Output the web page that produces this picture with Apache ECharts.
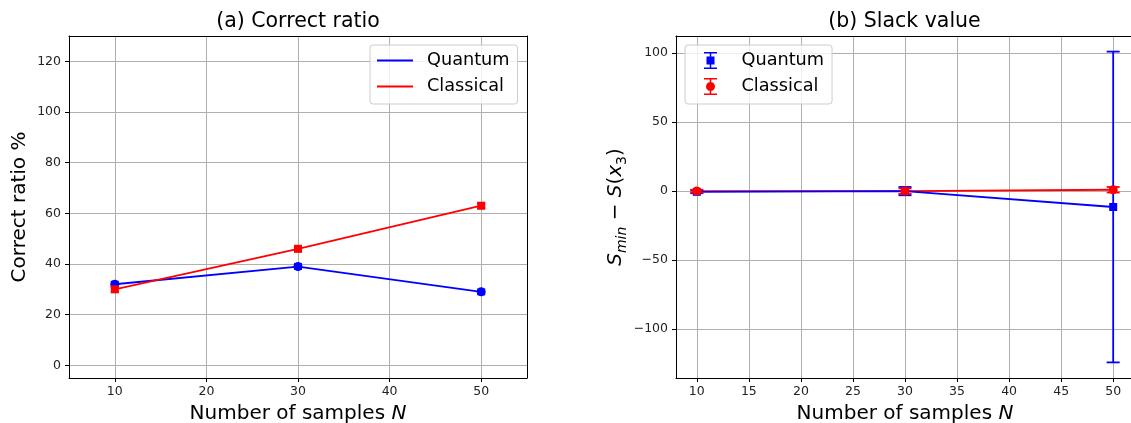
<!DOCTYPE html>
<html><head><meta charset="utf-8">
<script src="https://cdn.jsdelivr.net/npm/echarts@6/dist/echarts.min.js"></script>
<style>html,body{margin:0;padding:0;background:#fff}#c{width:1131px;height:423px}</style>
</head><body><div id="c"></div>
<script>
// ---- data ----
const sampleSizes = [10, 30, 50];
const quantumRatio = [32, 39, 29];
const classicalRatio = [30, 46, 63];
const quantumRatioErr = [1, 1, 1];
const classicalRatioErr = [1, 1, 1];
const quantumSlack = [-0.5, 0, -11.5];
const quantumSlackErr = [1, 3, 112.5];
const classicalSlack = [0, 0, 1];
const classicalSlackErr = [1, 2, 2];
const ratioXTicks = [10, 20, 30, 40, 50];
const ratioYTicks = [0, 20, 40, 60, 80, 100, 120];
const slackXTicks = [10, 15, 20, 25, 30, 35, 40, 45, 50];
const slackYTicks = [-100, -50, 0, 50, 100];

const FONT = 'DejaVu Sans';
const BLUE = '#0000ff', RED = '#ff0000';
const LW = 1.8;

function pairs(xs, ys) { return xs.map((x, i) => [x, ys[i]]); }

function errSeries(id, xs, ys, es, color, axis, cap, z) {
  return {
    type: 'custom', name: id, xAxisIndex: axis, yAxisIndex: axis, silent: true, z: z,
    data: xs.map((x, i) => [x, ys[i] - es[i], ys[i] + es[i]]),
    encode: { x: 0, y: [1, 2] },
    renderItem: function (params, api) {
      const x = api.value(0);
      const lo = api.coord([x, api.value(1)]);
      const hi = api.coord([x, api.value(2)]);
      const st = { stroke: color, lineWidth: LW };
      return { type: 'group', children: [
        { type: 'line', shape: { x1: lo[0], y1: lo[1], x2: hi[0], y2: hi[1] }, style: st },
        { type: 'line', shape: { x1: lo[0] - cap, y1: lo[1], x2: lo[0] + cap, y2: lo[1] }, style: st },
        { type: 'line', shape: { x1: hi[0] - cap, y1: hi[1], x2: hi[0] + cap, y2: hi[1] }, style: st }
      ] };
    }
  };
}
function lineSeries(name, xs, ys, color, axis, z) {
  return { type: 'line', name: name, xAxisIndex: axis, yAxisIndex: axis, data: pairs(xs, ys),
    showSymbol: false, symbol: 'none', z: z, silent: true,
    itemStyle: { color: color }, lineStyle: { color: color, width: LW } };
}
function markerSeries(id, xs, ys, color, axis, symbol, size, z) {
  return { type: 'scatter', name: id, xAxisIndex: axis, yAxisIndex: axis, data: pairs(xs, ys),
    symbol: symbol, symbolSize: size, z: z, silent: true, itemStyle: { color: color, opacity: 1 } };
}

function xAxisOf(idx, min, max, ticks) {
  return {
    type: 'value', gridIndex: idx, min: min, max: max, position: 'bottom',
    name: 'Number of samples {i|N}', nameLocation: 'middle', nameGap: 26,
    nameTextStyle: { fontSize: 20, color: '#000', fontFamily: FONT,
      rich: { i: { fontSize: 20, fontStyle: 'italic', fontFamily: FONT, color: '#000' } } },
    axisLine: { show: true, onZero: false, lineStyle: { color: '#000', width: 1 } },
    axisTick: { show: true, length: 4, lineStyle: { color: '#000' }, customValues: ticks },
    axisLabel: { fontSize: 12.5, color: '#222', fontFamily: FONT, margin: 7, customValues: ticks,
      formatter: v => String(v) },
    splitLine: { show: true, lineStyle: { color: '#b0b0b0', width: 1 } }
  };
}
function yAxisOf(idx, min, max, ticks, name, gap, rich) {
  return {
    type: 'value', gridIndex: idx, min: min, max: max, position: 'left',
    name: name, nameLocation: 'middle', nameGap: gap,
    nameTextStyle: { fontSize: 20, color: '#000', fontFamily: FONT, rich: rich },
    axisLine: { show: true, onZero: false, lineStyle: { color: '#000', width: 1 } },
    axisTick: { show: true, length: 4, lineStyle: { color: '#000' }, customValues: ticks },
    axisLabel: { fontSize: 12.5, color: '#222', fontFamily: FONT, margin: 8, customValues: ticks,
      formatter: v => (v < 0 ? '\u2212' + Math.abs(v) : String(v)) },
    splitLine: { show: true, lineStyle: { color: '#b0b0b0', width: 1 } }
  };
}
// plain spine-only axes (top / right frame lines)
function spineAxis(idx, min, max, position) {
  return {
    type: 'value', gridIndex: idx, min: min, max: max, position: position,
    axisLine: { show: true, onZero: false, lineStyle: { color: '#000', width: 1 } },
    axisTick: { show: false }, axisLabel: { show: false }, splitLine: { show: false }
  };
}

const slackRich = {
  i: { fontSize: 20, fontStyle: 'italic', fontFamily: FONT, color: '#000', verticalAlign: 'middle', lineHeight: 28 },
  n: { fontSize: 20, fontFamily: FONT, color: '#000', verticalAlign: 'middle', lineHeight: 28 },
  s: { fontSize: 14, fontStyle: 'italic', fontFamily: FONT, color: '#000', verticalAlign: 'bottom', lineHeight: 28 },
  u: { fontSize: 14, fontFamily: FONT, color: '#000', verticalAlign: 'bottom', lineHeight: 28 }
};

const qIcon = 'path://M0,0h13v1.5h-13z M5.75,0h1.5v17h-1.5z M0,15.5h13v1.5h-13z M2.5,4.5h8v8h-8z';
const cIcon = 'path://M0,0h13v1.5h-13z M5.75,0h1.5v17h-1.5z M0,15.5h13v1.5h-13z M11,8.5a4.5,4.5 0 1,1 -9,0a4.5,4.5 0 1,1 9,0z';

const legendBase = {
  orient: 'vertical', selectedMode: false,
  backgroundColor: 'rgba(255,255,255,0.8)', borderColor: '#cccccc', borderWidth: 1, borderRadius: 3,
  itemStyle: { borderWidth: 0 }
};

const option = {
  animation: false,
  backgroundColor: '#fff',
  title: [
    { text: '(a) Correct ratio', left: 298, top: 11, textAlign: 'center', padding: 0,
      textStyle: { fontSize: 20.5, fontWeight: 'normal', color: '#000', fontFamily: FONT } },
    { text: '(b) Slack value', left: 904.5, top: 11, textAlign: 'center', padding: 0,
      textStyle: { fontSize: 20.5, fontWeight: 'normal', color: '#000', fontFamily: FONT } }
  ],
  legend: [
    Object.assign({}, legendBase, {
      left: 370, top: 45, padding: [6, 8, 8, 7], itemGap: 7, itemWidth: 36, itemHeight: 2,
      textStyle: { fontSize: 17.7, color: '#000', fontFamily: FONT, lineHeight: 19, padding: [0, 0, 0, 9] },
      data: [{ name: 'Quantum', icon: 'rect' }, { name: 'Classical', icon: 'rect' }]
    }),
    Object.assign({}, legendBase, {
      left: 685, top: 45, padding: [6, 8, 8, 19], itemGap: 7, itemWidth: 32, itemHeight: 17,
      textStyle: { fontSize: 17.7, color: '#000', fontFamily: FONT, lineHeight: 19, padding: [0, 0, 0, 10] },
      data: [{ name: 'Quantum', icon: qIcon }, { name: 'Classical', icon: cIcon }]
    })
  ],
  grid: [
    { left: 69, top: 36, right: 604, bottom: 45, show: false, containLabel: false, outerBoundsMode: 'none' },
    { left: 676, top: 36, right: -3, bottom: 45, show: false, containLabel: false, outerBoundsMode: 'none' }
  ],
  xAxis: [
    xAxisOf(0, 5, 55, ratioXTicks),
    xAxisOf(1, 8, 52, slackXTicks),
    spineAxis(0, 5, 55, 'top'),
    spineAxis(1, 8, 52, 'top')
  ],
  yAxis: [
    yAxisOf(0, -5, 130, ratioYTicks, 'Correct ratio %', 39, {}),
    yAxisOf(1, -135.3, 112.3, slackYTicks,
      '{i|S}{s|min}{n| \u2212 }{i|S}{n|(}{i|x}{u|3}{n|)}', 44, slackRich),
    spineAxis(0, -5, 130, 'right')
  ],
  series: [
    lineSeries('Quantum', sampleSizes, quantumRatio, BLUE, 0, 3),
    lineSeries('Classical', sampleSizes, classicalRatio, RED, 0, 4),
    errSeries('qerr0', sampleSizes, quantumRatio, quantumRatioErr, BLUE, 0, 4, 5),
    markerSeries('qm0', sampleSizes, quantumRatio, BLUE, 0, 'circle', 9, 6),
    errSeries('cerr0', sampleSizes, classicalRatio, classicalRatioErr, RED, 0, 4, 7),
    markerSeries('cm0', sampleSizes, classicalRatio, RED, 0, 'rect', 8, 8),

    lineSeries('Classical', sampleSizes, classicalSlack, RED, 1, 3),
    lineSeries('Quantum', sampleSizes, quantumSlack, BLUE, 1, 4),
    errSeries('qerr1', sampleSizes, quantumSlack, quantumSlackErr, BLUE, 1, 6.5, 5),
    markerSeries('qm1', sampleSizes, quantumSlack, BLUE, 1, 'rect', 8, 6),
    errSeries('cerr1', sampleSizes, classicalSlack, classicalSlackErr, RED, 1, 6.5, 7),
    markerSeries('cm1', sampleSizes, classicalSlack, RED, 1, 'circle', 9, 8)
  ]
};

const chart = echarts.init(document.getElementById('c'), null, { renderer: 'canvas' });
chart.setOption(option);
</script>
</body></html>
